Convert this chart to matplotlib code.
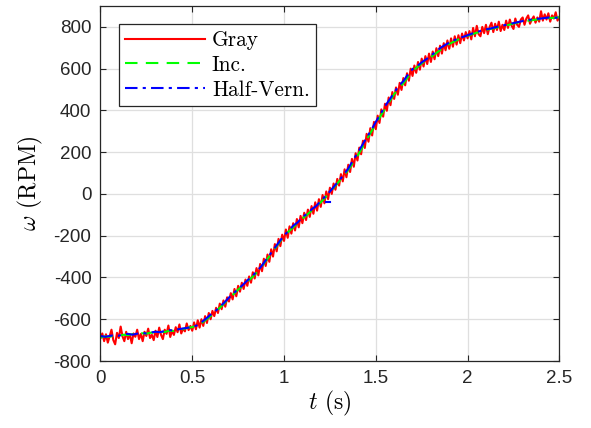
import numpy as np
import matplotlib.pyplot as plt

plt.rcParams['mathtext.fontset'] = 'cm'
plt.rcParams['axes.unicode_minus'] = False

# Gray encoder (red), sampled every 0.01 s
t_gray = np.linspace(0, 2.5, 251)
w_gray = [
    -690, -668, -705, -672, -712, -680, -650, -700, -720, -665,
    -690, -635, -682, -705, -660, -695, -672, -715, -668, -684,
    -650, -695, -670, -705, -660, -680, -645, -690, -675, -700,
    -655, -685, -640, -675, -695, -650, -670, -630, -685, -655,
    -675, -638, -662, -625, -668, -645, -658, -620, -652, -632,
    -655, -615, -648, -605, -640, -600, -632, -585, -618, -570,
    -600, -560, -585, -545, -570, -525, -552, -510, -540, -495,
    -515, -475, -505, -455, -490, -440, -468, -425, -455, -410,
    -440, -395, -425, -375, -405, -355, -390, -335, -370, -310,
    -345, -290, -325, -265, -300, -240, -275, -215, -250, -195,
    -225, -170, -210, -155, -190, -140, -175, -120, -160, -105,
    -140, -90, -125, -75, -110, -58, -95, -40, -80, -25,
    -62, -5, -45, 12, -25, 30, 0, 50, 20, 72,
    40, 95, 60, 118, 80, 140, 105, 168, 130, 195,
    160, 222, 190, 255, 220, 288, 250, 315, 280, 345,
    310, 375, 340, 405, 370, 432, 398, 462, 425, 488,
    455, 510, 475, 532, 498, 555, 520, 578, 542, 600,
    565, 615, 580, 632, 595, 648, 610, 660, 622, 672,
    632, 682, 645, 698, 660, 710, 672, 722, 688, 735,
    695, 745, 705, 755, 715, 760, 722, 768, 735, 775,
    745, 780, 740, 795, 755, 805, 765, 755, 800, 770,
    810, 765, 800, 820, 775, 815, 785, 825, 780, 810,
    785, 830, 795, 835, 805, 790, 840, 810, 800, 835,
    845, 810, 840, 855, 815, 835, 850, 820, 845, 825,
    875, 830, 860, 835, 865, 825, 855, 840, 870, 830,
    848,
]

# Incremental (green) and Half-Vernier (blue), sampled every 0.025 s
t_est = np.linspace(0, 2.5, 101)
w_inc = [
    -688, -682, -684, -678, -680, -674, -676, -671, -673, -667,
    -669, -664, -666, -660, -661, -655, -656, -649, -648, -640,
    -638, -628, -620, -602, -585, -566, -545, -524, -500, -480,
    -458, -440, -420, -400, -378, -352, -322, -293, -262, -232,
    -202, -180, -160, -138, -118, -100, -80, -60, -40, -16,
    8, 34, 60, 87, 115, 148, 182, 220, 260, 298,
    335, 372, 408, 443, 478, 505, 530, 560, 588, 607,
    625, 640, 655, 672, 688, 703, 718, 729, 740, 749,
    757, 765, 772, 778, 785, 790, 795, 800, 805, 810,
    816, 821, 826, 829, 832, 835, 838, 840, 842, 844,
    846,
]
w_half = [
    -680, -684, -680, -676, -679, -672, -670, -674, -669, -665,
    -668, -663, -660, -662, -656, -652, -654, -648, -644, -641,
    -636, -630, -615, -597, -578, -562, -540, -520, -496, -476,
    -455, -436, -414, -396, -372, -348, -318, -288, -258, -228,
    -198, -178, -152, -136, -110, -96, -74, -58, -34, -12,
    12, 38, 64, 92, 122, 160, 195, 232, 270, 305,
    345, 382, 420, 452, 485, 518, 540, 572, 598, 612,
    630, 645, 662, 680, 698, 712, 725, 735, 746, 752,
    760, 768, 775, 782, 788, 792, 798, 803, 808, 814,
    818, 823, 828, 831, 836, 838, 840, 843, 846, 843,
    846,
]
# stray Half-Vernier segment near t = 1.23 s
t_glitch = [1.227, 1.25]
w_glitch = [-38, -38]

fig = plt.figure(figsize=(5.91, 4.28), dpi=100)
ax = fig.add_axes([0.170, 0.1565, 0.7765, 0.8295])

ax.plot(t_gray, w_gray, color='#ff0000', lw=1.5, label='Gray')
ax.plot(t_est, w_inc, color='#00ff00', lw=1.5, ls=(0, (6, 4)), label='Inc.')
ax.plot(t_est, w_half, color='#0000ff', lw=1.5, ls=(0, (6, 2.5, 1.5, 2.5)), label='Half-Vern.')
ax.plot(t_glitch, w_glitch, color='#0000ff', lw=1.5)

ax.set_xlim(0, 2.5)
ax.set_ylim(-800, 900)
ax.set_xticks([0, 0.5, 1, 1.5, 2, 2.5])
ax.set_xticklabels(['0', '0.5', '1', '1.5', '2', '2.5'])
ax.set_yticks(np.arange(-800, 801, 200))
ax.grid(True, color='#dfdfdf', lw=0.9)
ax.set_axisbelow(True)

for s in ax.spines.values():
    s.set_color('#262626')
    s.set_linewidth(0.9)
ax.tick_params(direction='in', length=4, width=0.8, color='#262626',
               top=True, right=True, labelsize=13.5, labelcolor='#262626', pad=6.5)
for lab in ax.get_xticklabels() + ax.get_yticklabels():
    lab.set_fontfamily('Liberation Sans')

ax.set_xlabel(r'$t$ (s)', family='cmr10', fontsize=17, labelpad=1)
ax.set_ylabel(r'$\omega$ (RPM)', family='cmr10', fontsize=17, labelpad=6)

leg = ax.legend(loc='upper left', bbox_to_anchor=(0.040, 0.949), borderaxespad=0,
                prop={'family': 'cmr10', 'size': 15.4}, handlelength=3.75,
                handletextpad=0.3, labelspacing=0.25, borderpad=0.3,
                fancybox=False, framealpha=1)
leg.get_frame().set_edgecolor('#262626')
leg.get_frame().set_linewidth(0.9)

fig.savefig('out.png', dpi=100)
